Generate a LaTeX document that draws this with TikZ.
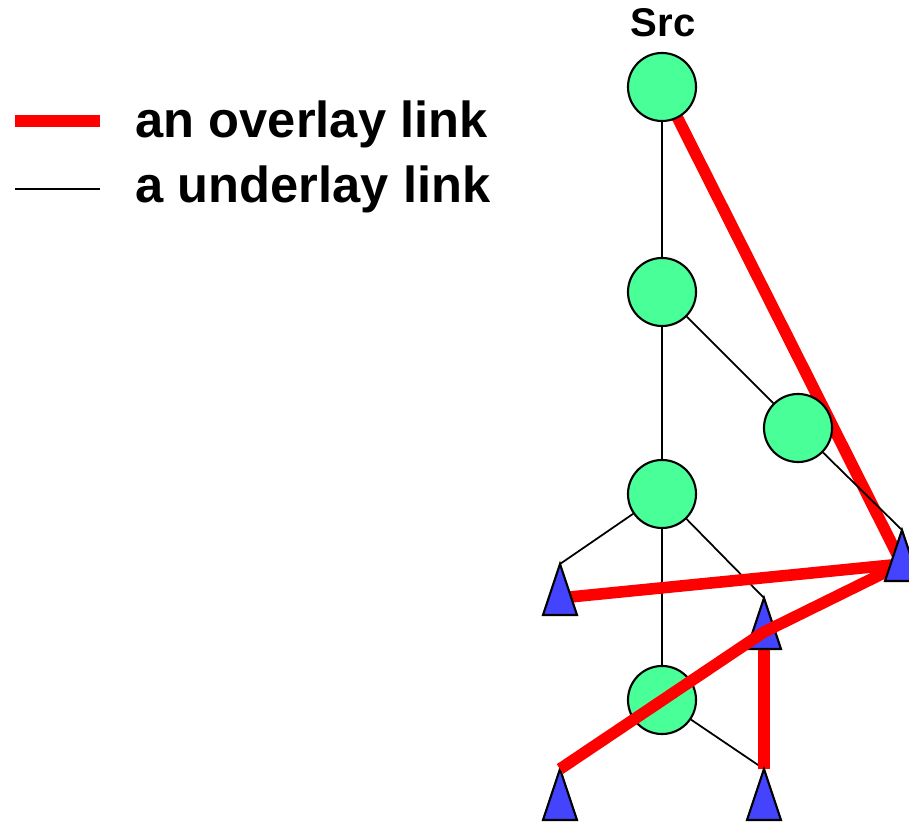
\documentclass[tikz,border=0pt]{standalone}
\usepackage{fontspec}
\setmainfont{Liberation Sans}
\usepackage{xcolor}
\definecolor{routergreen}{RGB}{72,255,152}
\definecolor{hostblue}{RGB}{68,68,255}
\pgfdeclarelayer{back}
\pgfdeclarelayer{front}
\pgfdeclarelayer{top}
\pgfsetlayers{back,main,front,top}
% end host: triangle around its centre
\newcommand{\hosttri}[1]{\draw[host] (#1-top) -- ++(-17,51) -- ++(34,0) -- cycle;}

\begin{document}
\begin{tikzpicture}[x=0.01cm,y=-0.01cm,line join=miter,
  under/.style={line width=0.5pt},
  over/.style={red,line width=3.3pt},
  router/.style={circle,draw,line width=0.6pt,fill=routergreen,minimum size=0.68cm,inner sep=0pt},
  host/.style={draw,line width=0.6pt,fill=hostblue},
  lgtext/.style={anchor=base west,inner sep=0pt,font=\fontsize{14.4}{17}\bfseries}]
\useasboundingbox (0,0) rectangle (909,822);

% legend
\draw[over] (15,121) -- (100,121);
\draw[under] (15,189) -- (100,189);
\node[lgtext] (lgover) at (135,138) {an overlay link};
\node[lgtext] (lgunder) at (135,203) {a underlay link};

% routers
\node[router] (src) at (662,87) {};
\node[router] (n1) at (662,292) {};
\node[router] (n2) at (798,428) {};
\node[router] (n3) at (662,494) {};
\node[router] (n4) at (662,700) {};
\node[anchor=base,font=\fontsize{11.4}{13}\bfseries] (srctext) at (663,37) {Src};

% hosts (centre, apex)
\foreach \n/\x/\y in {h1/560/598,h2/764/632,h3/902/564,h4/560/803,h5/764/803}{
  \coordinate (\n) at (\x,\y);
  \coordinate (\n-top) at (\x,\y-34);
}
\hosttri{h2}
\hosttri{h4}
\hosttri{h5}
\begin{pgfonlayer}{top}
\hosttri{h1}
\hosttri{h3}
\end{pgfonlayer}

% underlay and overlay links
\begin{pgfonlayer}{back}
\draw[over] (src.center) -- (h3);
\draw[under] (src) -- (n1) -- (n3) -- (n4);
\draw[under] (n1) -- (n2) -- (h3-top);
\draw[under] (n3) -- (h1-top);
\draw[under] (n3) -- (h2-top);
\draw[under] (n4) -- (h4-top);
\draw[under] (n4) -- (h5-top);
\draw[over] (h2) -- (h5-top);
\end{pgfonlayer}
\begin{pgfonlayer}{front}
\draw[over] (h3) -- (h1);
\draw[over] (h3) -- (h2) -- (h4-top);
\end{pgfonlayer}
\end{tikzpicture}
\end{document}
